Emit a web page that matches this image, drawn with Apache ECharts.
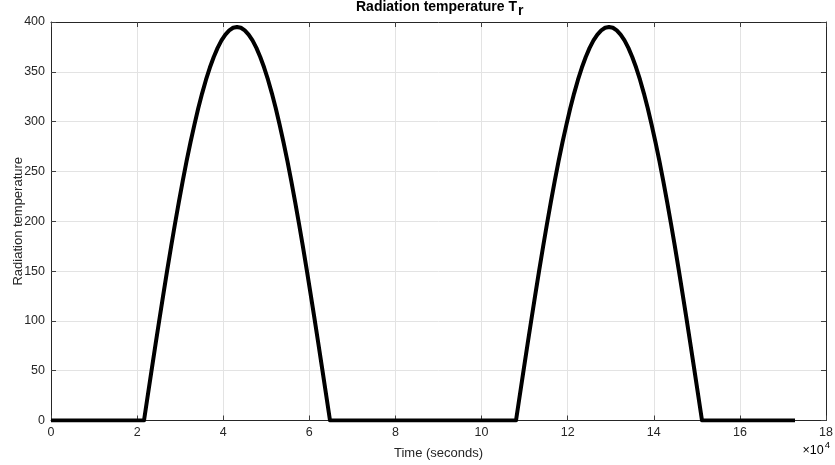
<!DOCTYPE html>
<html>
<head>
<meta charset="utf-8">
<script src="https://cdn.jsdelivr.net/npm/echarts@6/dist/echarts.min.js"></script>
<style>
html,body{margin:0;padding:0;background:#fff;}
#chart{width:835px;height:465px;}
</style>
</head>
<body>
<div id="chart"></div>
<script>
// Time in seconds
var times = [0, 21600,
  22500, 23400, 24300, 25200, 26100, 27000, 27900, 28800, 29700, 30600, 31500, 32400,
  33300, 34200, 35100, 36000, 36900, 37800, 38700, 39600, 40500, 41400, 42300, 43200,
  44100, 45000, 45900, 46800, 47700, 48600, 49500, 50400, 51300, 52200, 53100, 54000,
  54900, 55800, 56700, 57600, 58500, 59400, 60300, 61200, 62100, 63000, 63900, 64800,
  108000,
  108900, 109800, 110700, 111600, 112500, 113400, 114300, 115200, 116100, 117000, 117900, 118800,
  119700, 120600, 121500, 122400, 123300, 124200, 125100, 126000, 126900, 127800, 128700, 129600,
  130500, 131400, 132300, 133200, 134100, 135000, 135900, 136800, 137700, 138600, 139500, 140400,
  141300, 142200, 143100, 144000, 144900, 145800, 146700, 147600, 148500, 149400, 150300, 151200,
  172800];
// Radiation temperature values
var temps = [0, 0,
  25.8, 51.6, 77.1, 102.2, 126.8, 151.2, 174.7, 197.5, 219.4, 240.5, 260.6, 279.3,
  296.8, 313.4, 328.4, 342.1, 354.3, 364.9, 374.0, 381.5, 387.4, 391.6, 394.2, 395,
  394.2, 391.6, 387.4, 381.5, 374.0, 364.9, 354.3, 342.1, 328.4, 313.4, 296.8, 279.3,
  260.6, 240.5, 219.4, 197.5, 174.7, 151.2, 126.8, 102.2, 77.1, 51.6, 25.8, 0,
  0,
  25.8, 51.6, 77.1, 102.2, 126.8, 151.2, 174.7, 197.5, 219.4, 240.5, 260.6, 279.3,
  296.8, 313.4, 328.4, 342.1, 354.3, 364.9, 374.0, 381.5, 387.4, 391.6, 394.2, 395,
  394.2, 391.6, 387.4, 381.5, 374.0, 364.9, 354.3, 342.1, 328.4, 313.4, 296.8, 279.3,
  260.6, 240.5, 219.4, 197.5, 174.7, 151.2, 126.8, 102.2, 77.1, 51.6, 25.8, 0,
  0];
var titleMain = 'Radiation temperature T';
var titleSub = 'r';
var xName = 'Time (seconds)';
var yName = 'Radiation temperature';

var pts = times.map(function (t, i) { return [t, temps[i]]; });
var font = '"Liberation Sans", Arial, Helvetica, sans-serif';
var axisCol = '#262626';
var tickCol = '#404040';
var chart = echarts.init(document.getElementById('chart'));
chart.setOption({
  animation: false,
  backgroundColor: '#fff',
  title: {
    text: '{a|' + titleMain + '}{b|' + titleSub + '}',
    left: 351,
    top: -9,
    textStyle: {
      rich: {
        a: { fontFamily: font, fontWeight: 'bold', fontSize: 14, color: '#000' },
        b: { fontFamily: font, fontWeight: 'bold', fontSize: 14, color: '#000', padding: [8, 0, 0, 1] }
      }
    }
  },
  grid: { left: 51, right: 9, top: 22, bottom: 44.5, containLabel: false, outerBoundsMode: 'none' },
  xAxis: [{
    type: 'value', min: 0, max: 180000, interval: 20000,
    name: xName, nameLocation: 'middle', nameGap: 26, nameMoveOverlap: false,
    nameTextStyle: { fontFamily: font, fontSize: 13, color: axisCol },
    axisLine: { show: true, onZero: false, lineStyle: { color: axisCol, width: 1 } },
    axisTick: { show: true, inside: true, length: 5, lineStyle: { color: tickCol } },
    axisLabel: { fontFamily: font, fontSize: 12.5, color: axisCol, margin: 6,
      formatter: function (v) { return String(v / 10000); } },
    splitLine: { show: true, lineStyle: { color: '#e3e3e3', width: 1 } }
  }, {
    type: 'value', min: 0, max: 180000, interval: 20000, position: 'top',
    axisLine: { show: true, onZero: false, lineStyle: { color: axisCol, width: 1 } },
    axisTick: { show: true, inside: true, length: 5, lineStyle: { color: tickCol } },
    axisLabel: { show: false }, splitLine: { show: false }
  }],
  yAxis: [{
    type: 'value', min: 0, max: 400, interval: 50,
    name: yName, nameLocation: 'middle', nameGap: 26, nameMoveOverlap: false,
    nameTextStyle: { fontFamily: font, fontSize: 13, color: axisCol },
    axisLine: { show: true, onZero: false, lineStyle: { color: axisCol, width: 1 } },
    axisTick: { show: true, inside: true, length: 5, lineStyle: { color: tickCol } },
    axisLabel: { fontFamily: font, fontSize: 12.5, color: axisCol, margin: 6 },
    splitLine: { show: true, lineStyle: { color: '#e3e3e3', width: 1 } }
  }, {
    type: 'value', min: 0, max: 400, interval: 50, position: 'right',
    axisLine: { show: true, onZero: false, lineStyle: { color: axisCol, width: 1 } },
    axisTick: { show: true, inside: true, length: 5, lineStyle: { color: tickCol } },
    axisLabel: { show: false }, splitLine: { show: false }
  }],
  graphic: [{
    type: 'text', right: 5, top: 440,
    style: {
      text: '{a|\u00d710}{b|4}',
      rich: {
        a: { fontFamily: font, fontSize: 12.5, color: axisCol, padding: [6, 0, 0, 0] },
        b: { fontFamily: font, fontSize: 9.5, color: axisCol, padding: [0, 0, 6, 1] }
      }
    }
  }],
  series: [{
    type: 'line',
    data: pts,
    showSymbol: false,
    smooth: false,
    lineStyle: { color: '#000', width: 4, join: 'round' },
    z: 5
  }]
});
</script>
</body>
</html>
